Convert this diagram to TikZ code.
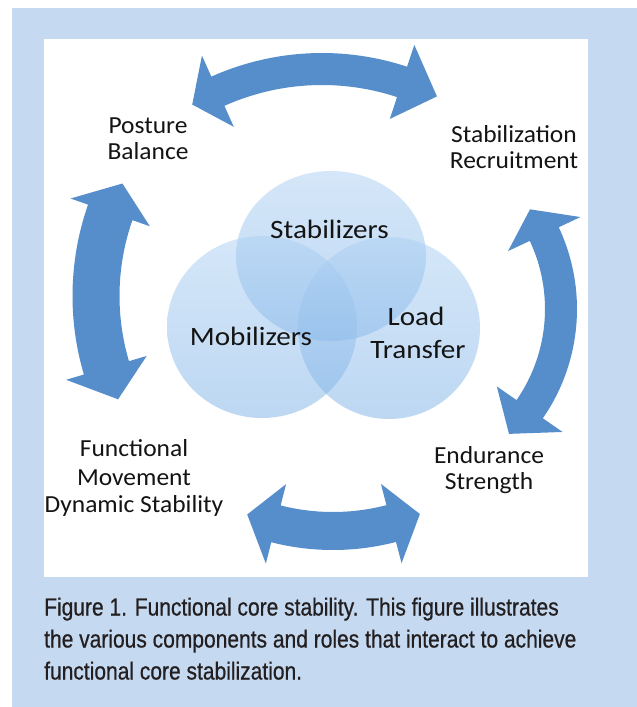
\documentclass[tikz,border=0pt]{standalone}
\usepackage{fontspec}
\setmainfont{Carlito}
\newfontfamily\bigfont[FakeStretch=1.1]{Carlito}
\newfontfamily\smallfont[FakeStretch=1.04]{Carlito}
\newfontfamily\capfont[FakeStretch=0.85,FakeBold=0.6]{Liberation Sans}
\definecolor{bgblue}{RGB}{197,217,240}
\definecolor{arrowblue}{RGB}{86,142,204}
\definecolor{circtop}{RGB}{172,208,244}
\definecolor{circbot}{RGB}{124,177,231}
\definecolor{captext}{RGB}{35,31,32}
\definecolor{labtext}{RGB}{20,20,20}
\tikzset{
  arrowstyle/.style={fill=arrowblue},
  circstyle/.style={top color=circtop, bottom color=circbot, fill opacity=0.5},
  biglab/.style={font=\bigfont\fontsize{26.5}{30}\selectfont, text=labtext, inner sep=0pt, anchor=base},
  outlab/.style={font=\smallfont\fontsize{24.5}{28}\selectfont, text=labtext, inner sep=0pt, anchor=base},
  caplab/.style={font=\capfont\fontsize{24.7}{32}\selectfont, text=captext, inner sep=0pt, anchor=base west}
}
\newcommand\dblarc[9]{%
  \pgfmathsetmacro\rin{#3-#4}\pgfmathsetmacro\rout{#3+#4}%
  \pgfmathsetmacro\hin{#3-#5}\pgfmathsetmacro\hout{#3+#5}%
  \begin{scope}[shift={(#1,#2)}]
    \fill[arrowstyle] plot[domain=#6:#7,samples=40] (\x:\rin) -- (#7:\hin) -- (#9:#3) -- (#7:\hout) -- (#7:\rout)
      -- plot[domain=#7:#6,samples=40] (\x:\rout) -- (#6:\hout) -- (#8:#3) -- (#6:\hin) -- cycle;
  \end{scope}}
\begin{document}
\begin{tikzpicture}[x=1pt,y=-1pt]
\useasboundingbox (0,0) rectangle (637,707);
\fill[white] (0,0) rectangle (637,707);
\fill[bgblue] (12,8) rectangle (637,707);
\fill[white] (44,39) rectangle (588,577);

% circles
\shade[circstyle] (331,256) ellipse [x radius=95pt, y radius=85pt];
\shade[circstyle] (262,327) ellipse [x radius=95pt, y radius=91pt];
\shade[circstyle] (389,328) ellipse [x radius=91pt, y radius=91pt];

% curved double arrows: cx, cy, R, half thickness, half head width, a, b, tip a, tip b
\dblarc{322}{324}{255}{16}{39}{245.9}{288.3}{239.4}{296.8}
\dblarc{349}{296}{253}{23.5}{42}{163.5}{199.3}{155.9}{206.4}
\dblarc{385}{309}{176}{16}{40}{-25.2}{34.7}{-34.5}{45.2}
\dblarc{333}{300}{231}{19}{41}{75.4}{104.3}{67.9}{111.8}

% circle labels
\node[biglab] (stab) at (329.5,238.3) {Stabilizers};
\node[biglab] (mob) at (251,345) {Mobilizers};
\node[biglab] (load) at (416,325) {Load};
\node[biglab] (transfer) at (418,358) {Transfer};

% outer labels
\node[outlab] (posture) at (148,133) {Posture};
\node[outlab] (balance) at (148,159) {Balance};
\node[outlab] (stabiliz) at (514,142.7) {Stabilization};
\node[outlab] (recruit) at (514,168) {Recruitment};
\node[outlab] (endur) at (489,463.3) {Endurance};
\node[outlab] (strength) at (489,489.3) {Strength};
\node[outlab] (funct) at (134,456.7) {Functional};
\node[outlab] (movem) at (134,485) {Movement};
\node[outlab] (dynstab) at (134,512.7) {Dynamic Stability};

% caption
\node[caplab] (cap1) at (44,615.5) {Figure 1. Functional core stability. This figure illustrates};
\node[caplab] (cap2) at (44,647.5) {the various components and roles that interact to achieve};
\node[caplab] (cap3) at (44,679.5) {functional core stabilization.};
\end{tikzpicture}
\end{document}
